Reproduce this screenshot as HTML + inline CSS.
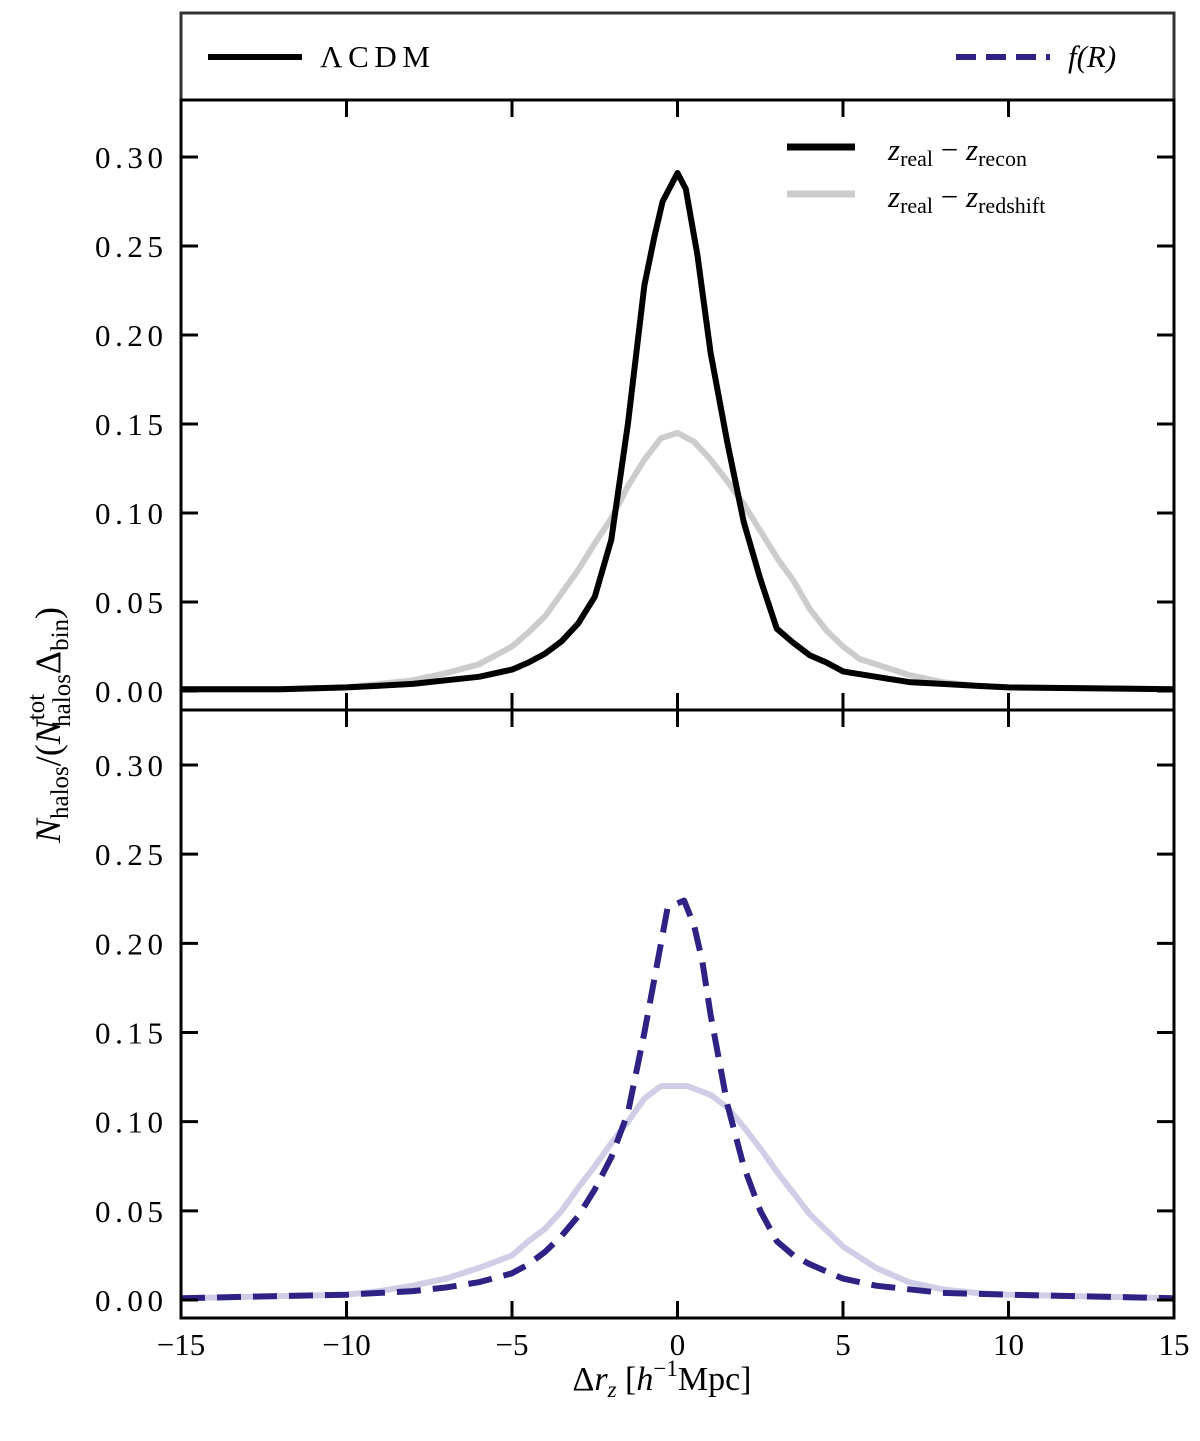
<!DOCTYPE html>
<html><head><meta charset="utf-8"><style>
html,body{margin:0;padding:0;background:#fff;}
svg text{font-family:"Liberation Serif","DejaVu Serif",serif;fill:#000;}
</style></head><body>
<svg id="chart" width="1200" height="1436" viewBox="0 0 1200 1436" xmlns="http://www.w3.org/2000/svg">
<g id="legend-top">
<rect x="181" y="13" width="993" height="87" fill="#fff" stroke="#333" stroke-width="3"/>
<line x1="208" y1="57" x2="302" y2="57" stroke="#000" stroke-width="6"/>
<text x="320" y="67" font-size="31" textLength="110">ΛCDM</text>
<line x1="956" y1="57" x2="1050" y2="57" stroke="#2e2385" stroke-width="6" stroke-dasharray="20,10"/>
<text x="1068" y="67" font-size="31" font-style="italic">f(R)</text>
</g>
<g id="plots"></g>
<text x="662" y="1390" font-size="34" text-anchor="middle">Δ<tspan font-style="italic">r</tspan><tspan font-style="italic" font-size="23" dy="7">z</tspan><tspan dy="-7"> [</tspan><tspan font-style="italic">h</tspan><tspan font-size="23" dy="-14">−1</tspan><tspan dy="14">Mpc]</tspan></text>
<text transform="translate(60,725) rotate(-90)" font-size="36" text-anchor="middle"><tspan font-style="italic">N</tspan><tspan font-size="25" dy="8">halos</tspan><tspan dy="-8">/(</tspan><tspan font-style="italic">N</tspan><tspan font-size="25" dy="-16">tot</tspan><tspan font-size="25" dx="-33" dy="26">halos</tspan><tspan dy="-10">Δ</tspan><tspan font-size="25" dy="8">bin</tspan><tspan dy="-8">)</tspan></text>
</svg>
<script>
const xTicks=[-15,-10,-5,0,5,10,15];
const yTicks=[0,0.05,0.10,0.15,0.20,0.25,0.30];
const yTickLabels=["0.00","0.05","0.10","0.15","0.20","0.25","0.30"];
const reconX=[-15,-12,-10,-9,-8,-7,-6,-5,-4.5,-4,-3.5,-3,-2.5,-2,-1.5,-1,-0.7,-0.45,0,0.25,0.6,1,1.5,2,2.5,3,3.5,4,4.5,5,6,7,8,9,10,15];
const lcdmRecon=[0.001,0.001,0.002,0.003,0.004,0.006,0.008,0.012,0.016,0.021,0.028,0.038,0.053,0.085,0.15,0.228,0.255,0.275,0.291,0.282,0.245,0.19,0.14,0.095,0.063,0.035,0.027,0.02,0.016,0.011,0.008,0.005,0.004,0.003,0.002,0.001];
const redX=[-15,-12,-10,-9,-8,-7,-6,-5.5,-5,-4.5,-4,-3.5,-3,-2.5,-2,-1.5,-1,-0.5,0,0.5,1,1.5,2,2.5,3,3.5,4,4.5,5,5.5,6,7,8,9,10,15];
const lcdmRedshift=[0.001,0.001,0.002,0.004,0.006,0.01,0.015,0.02,0.025,0.033,0.042,0.055,0.068,0.083,0.097,0.115,0.13,0.142,0.145,0.14,0.13,0.118,0.105,0.09,0.075,0.062,0.046,0.034,0.025,0.018,0.015,0.009,0.005,0.003,0.002,0.001];
const frReconX=[-15,-10,-8,-7,-6,-5,-4.5,-4,-3.5,-3,-2.5,-2,-1.5,-1,-0.3,0.2,0.5,0.75,1,1.5,2,2.5,3,3.5,4,5,6,7,8,10,15];
const frRecon=[0.001,0.003,0.005,0.007,0.01,0.015,0.02,0.027,0.036,0.047,0.062,0.08,0.105,0.15,0.22,0.224,0.21,0.19,0.16,0.11,0.075,0.05,0.033,0.025,0.02,0.012,0.008,0.006,0.004,0.003,0.001];
const frRedX=[-15,-10,-9,-8,-7,-6,-5,-4.5,-4,-3.5,-3,-2.5,-2,-1.5,-1,-0.5,0.3,1,1.5,2,2.5,3,3.5,4,5,6,7,8,9,10,15];
const frRedshift=[0.001,0.003,0.005,0.008,0.012,0.018,0.025,0.033,0.04,0.05,0.063,0.075,0.088,0.1,0.113,0.12,0.12,0.115,0.108,0.097,0.085,0.072,0.06,0.048,0.03,0.018,0.01,0.006,0.004,0.003,0.001];

const NS="http://www.w3.org/2000/svg";
const root=document.getElementById('plots');
const X0=181,X1=1174;
function xs(v){return X0+(v+15)/30*(X1-X0);}
function mk(tag,attrs,parent){const e=document.createElementNS(NS,tag);for(const k in attrs)e.setAttribute(k,attrs[k]);parent.appendChild(e);return e;}
function panel(top,bottom,y0,y30,name,series){
  const g=mk('g',{},root);
  
  
  const ys=v=>y0+(y30-y0)*v/0.3;
  series.forEach(s=>{
    const d=s.x.map((xv,i)=>(i?'L':'M')+xs(xv).toFixed(1)+','+ys(s.y[i]).toFixed(1)).join(' ');
    const p=mk('path',{d:d,fill:'none',stroke:s.c,'stroke-width':6,'stroke-linejoin':'round'},g);
    if(s.dash)p.setAttribute('stroke-dasharray',s.dash);
    
    
  });
  const fr=mk('rect',{x:X0,y:top,width:X1-X0,height:bottom-top,fill:'none',stroke:'#000','stroke-width':3},g);
  
  
  yTicks.forEach((t,i)=>{
    const y=ys(t);
    const l=mk('path',{d:`M${X0},${y}h17M${X1},${y}h-17`,stroke:'#000','stroke-width':3},g);
    
    
    const tx=mk('text',{x:163,y:y+11,'font-size':31,'text-anchor':'end',textLength:68},g);
    tx.textContent=yTickLabels[i];
    
    
  });
  xTicks.forEach(t=>{
    const x=xs(t);
    const l=mk('path',{d:`M${x},${top}v17M${x},${bottom}v-17`,stroke:'#000','stroke-width':3},g);
    
    
  });
  return ys;
}
panel(100,710,691,157,'top-panel',[
 {x:redX,y:lcdmRedshift,c:'#cccccc',name:'lcdm-redshift-line'},
 {x:reconX,y:lcdmRecon,c:'#000',name:'lcdm-recon-line'}]);
panel(710,1318,1300,765,'bottom-panel',[
 {x:frRedX,y:frRedshift,c:'#d0cee6',name:'fr-redshift-line'},
 {x:frReconX,y:frRecon,c:'#2e2385',dash:'24,12',name:'fr-recon-line'}]);
xTicks.forEach(t=>{
  const tx=mk('text',{x:xs(t),y:1355,'font-size':31,'text-anchor':'middle'},root);
  tx.textContent=(t<0?'−':'')+Math.abs(t);
  
  
});
const lg=mk('g',{},root);


const l1=mk('line',{x1:787,y1:147,x2:855,y2:147,stroke:'#000','stroke-width':7},lg);


const l2=mk('line',{x1:787,y1:194,x2:855,y2:194,stroke:'#cccccc','stroke-width':7},lg);


const t1=mk('text',{x:888,y:160,'font-size':31},lg);
t1.innerHTML='<tspan font-style="italic">z</tspan><tspan font-size="22" dy="6">real</tspan><tspan dy="-6"> − </tspan><tspan font-style="italic">z</tspan><tspan font-size="22" dy="6">recon</tspan>';


const t2=mk('text',{x:888,y:207,'font-size':31},lg);
t2.innerHTML='<tspan font-style="italic">z</tspan><tspan font-size="22" dy="6">real</tspan><tspan dy="-6"> − </tspan><tspan font-style="italic">z</tspan><tspan font-size="22" dy="6">redshift</tspan>';


</script>
</body></html>
